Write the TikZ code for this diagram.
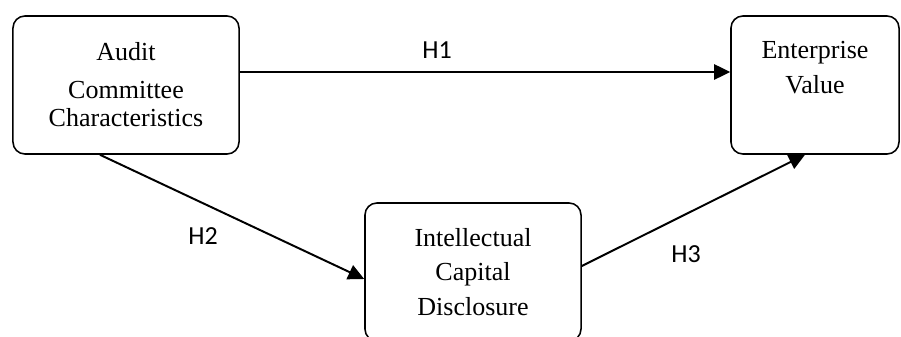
\documentclass[tikz,border=0pt]{standalone}
\usepackage{amsmath,amssymb}
\usepackage{fontspec}
\setmainfont{Liberation Serif}
\newfontfamily\hfont{Carlito}
\usetikzlibrary{arrows.meta}

\begin{document}
\begin{tikzpicture}[x=0.025cm, y=-0.025cm,
  box/.style={draw, line width=1.1pt, rounded corners=0.3cm, align=center,
    minimum height=3.45cm, font=\fontsize{18.5}{24.8}\selectfont},
  hyp/.style={font=\hfont\fontsize{18.5}{21}\selectfont},
  link/.style={-{Triangle[length=0.4cm,width=0.38cm]}, line width=1.4pt}]
\useasboundingbox (0,0) rectangle (901,336);

\node[box, minimum width=5.65cm] (acc) at (126,85) {Audit\\[2.2pt]Committee\\[-4.9pt]Characteristics};
\node[box, minimum width=4.2cm] (ev) at (815,85) {Enterprise\\Value\\\mbox{}};
\node[box, minimum width=5.4cm] (icd) at (473,272) {Intellectual\\Capital\\Disclosure};

\draw[link] ([yshift=0.325cm]acc.east) -- ([yshift=0.325cm]ev.west);
\draw[link] ([xshift=-0.65cm]acc.south) -- ([yshift=-0.175cm]icd.west);
\draw[link] ([yshift=0.15cm]icd.east) -- ([xshift=-0.25cm]ev.south);

\node[hyp] (h1) at (437,50) {H1};
\node[hyp] (h2) at (203,236) {H2};
\node[hyp] (h3) at (686,254) {H3};
\end{tikzpicture}
\end{document}
